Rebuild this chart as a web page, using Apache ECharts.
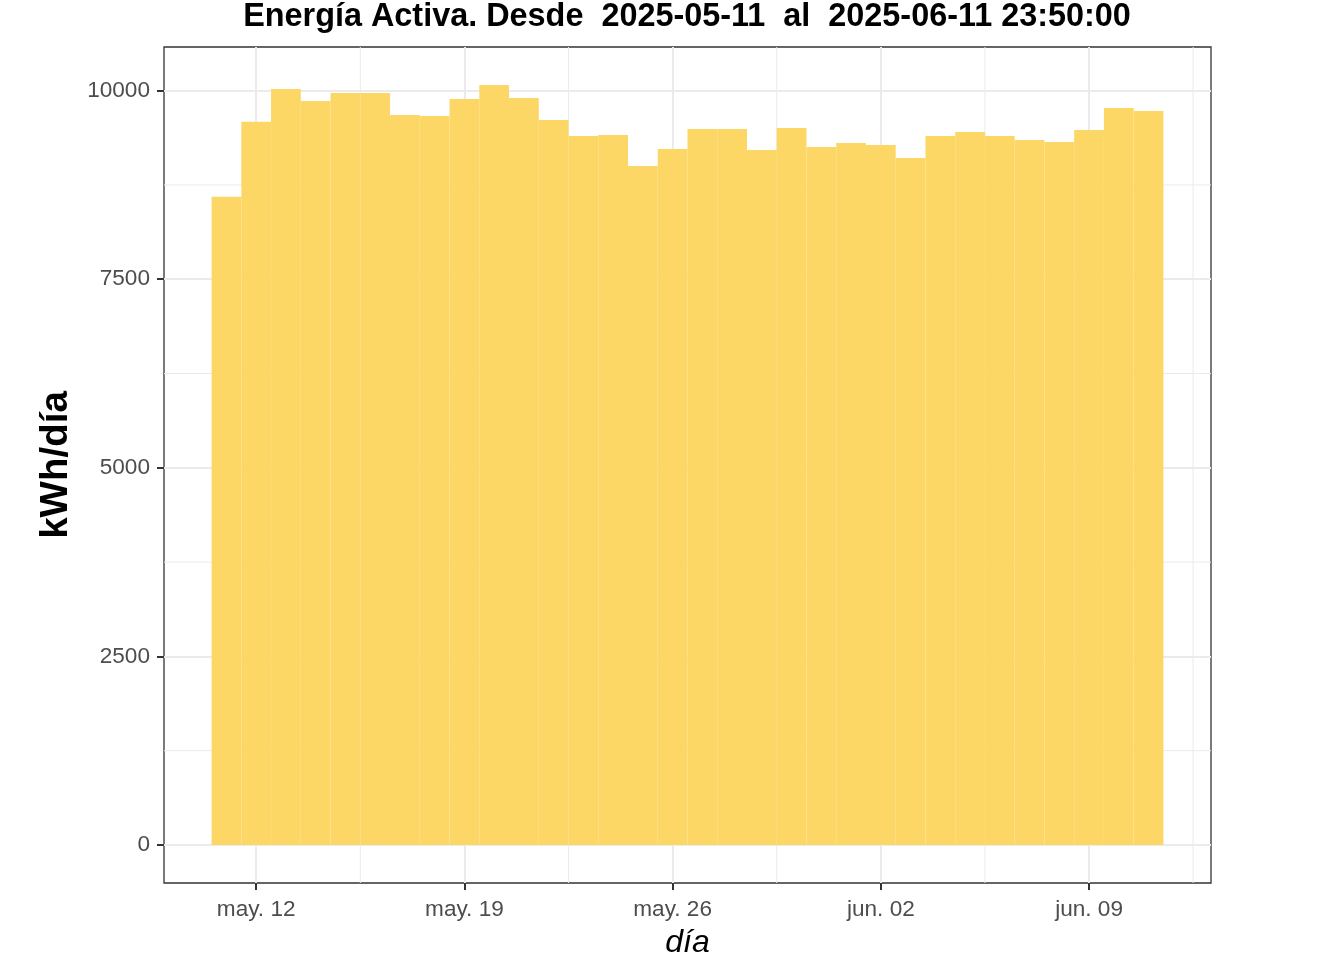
<!DOCTYPE html>
<html>
<head>
<meta charset="utf-8">
<script src="https://cdn.jsdelivr.net/npm/echarts@6/dist/echarts.min.js"></script>
<style>html,body{margin:0;padding:0;background:#fff}#c{width:1344px;height:960px}</style>
</head>
<body>
<div id="c"></div>
<script>
// ---- data ----
const dates = [
  "2025-05-11","2025-05-12","2025-05-13","2025-05-14","2025-05-15","2025-05-16","2025-05-17","2025-05-18",
  "2025-05-19","2025-05-20","2025-05-21","2025-05-22","2025-05-23","2025-05-24","2025-05-25","2025-05-26",
  "2025-05-27","2025-05-28","2025-05-29","2025-05-30","2025-05-31","2025-06-01","2025-06-02","2025-06-03",
  "2025-06-04","2025-06-05","2025-06-06","2025-06-07","2025-06-08","2025-06-09","2025-06-10","2025-06-11"
];
const energy = [
  8595, 9589, 10022, 9864, 9970, 9970, 9678, 9664,
  9890, 10075, 9903, 9612, 9400, 9413, 9002, 9228,
  9493, 9493, 9214, 9506, 9254, 9307, 9280, 9108,
  9400, 9453, 9400, 9347, 9320, 9479, 9771, 9731
];
const xTickDates = ["2025-05-12","2025-05-19","2025-05-26","2025-06-02","2025-06-09"];
const xTickLabels = ["may. 12","may. 19","may. 26","jun. 02","jun. 09"];
const yTicks = [0, 2500, 5000, 7500, 10000];
const yTickLabels = ["0","2500","5000","7500","10000"];
const titleText = "Energía Activa. Desde  2025-05-11  al  2025-06-11 23:50:00";

// ---- helpers ----
const DAY0 = Date.UTC(2025, 4, 1);
function dayNum(s) {
  const p = s.split("-").map(Number);
  return (Date.UTC(p[0], p[1] - 1, p[2]) - DAY0) / 86400000 + 1;
}
const xs = dates.map(dayNum);
const xTicks = xTickDates.map(dayNum);
const xMinData = Math.min(...xs) - 0.5, xMaxData = Math.max(...xs) + 0.5;
const xPad = (xMaxData - xMinData) * 0.05;
const xMin = xMinData - xPad, xMax = xMaxData + xPad;
const yMaxData = Math.max(...energy);
const yMin = -0.05 * yMaxData, yMax = 1.05 * yMaxData;

// minor gridlines: midpoints between majors
const xMinor = [];
for (let i = -1; i < xTicks.length; i++) {
  const a = i < 0 ? xTicks[0] - 7 : xTicks[i];
  const m = a + 3.5;
  if (m > xMin && m < xMax) xMinor.push(m);
}
const yMinor = [];
for (let i = -1; i < yTicks.length; i++) {
  const a = i < 0 ? yTicks[0] - 2500 : yTicks[i];
  const m = a + 1250;
  if (m > yMin && m < yMax) yMinor.push(m);
}

const FONT = "'Liberation Sans', Arial, sans-serif";
const BAR = "#FCD766";
const GRID = "#EBEBEB";

const chart = echarts.init(document.getElementById('c'), null, {renderer: 'canvas'});
chart.setOption({
  backgroundColor: '#ffffff',
  animation: false,
  title: {
    text: titleText,
    left: 687,
    textAlign: 'center',
    top: 1,
    padding: 0,
    textStyle: {fontFamily: FONT, fontWeight: 'bold', fontSize: 32.4, color: '#000'}
  },
  grid: {
    left: 164, right: 133, top: 47, bottom: 77,
    outerBoundsMode: 'none', containLabel: false,
    show: true, borderColor: '#333333', borderWidth: 1.3, backgroundColor: 'transparent'
  },
  xAxis: {
    type: 'value', min: xMin, max: xMax,
    name: 'día', nameLocation: 'middle', nameGap: 44,
    nameTextStyle: {fontFamily: FONT, fontStyle: 'italic', fontSize: 32, color: '#000'},
    axisLine: {show: false, onZero: false},
    axisTick: {show: true, inside: false, customValues: xTicks, length: 7, lineStyle: {color: '#333333', width: 2}},
    axisLabel: {
      customValues: xTicks, margin: 15,
      fontFamily: FONT, fontSize: 22.6, color: '#4D4D4D',
      formatter: v => { const i = xTicks.findIndex(t => Math.abs(t - v) < 1e-6); return i >= 0 ? xTickLabels[i] : ''; }
    },
    splitLine: {show: true, lineStyle: {color: GRID, width: 2}}
  },
  yAxis: {
    type: 'value', min: yMin, max: yMax,
    name: 'kWh/día', nameLocation: 'middle', nameGap: 88,
    nameTextStyle: {fontFamily: FONT, fontWeight: 'bold', fontSize: 38.5, color: '#000'},
    axisLine: {show: false, onZero: false},
    axisTick: {show: true, inside: false, customValues: yTicks, length: 7, lineStyle: {color: '#333333', width: 2}},
    axisLabel: {
      customValues: yTicks, margin: 14,
      fontFamily: FONT, fontSize: 22.6, color: '#4D4D4D',
      formatter: v => { const i = yTicks.findIndex(t => Math.abs(t - v) < 1e-6); return i >= 0 ? yTickLabels[i] : ''; }
    },
    splitLine: {show: true, lineStyle: {color: GRID, width: 2}}
  },
  series: [
    {
      type: 'custom', z: 1, silent: true,
      data: xMinor.map(v => [v, 0]),
      renderItem: (params, api) => {
        const p0 = api.coord([api.value(0), yMin]);
        const p1 = api.coord([api.value(0), yMax]);
        return {type: 'line', shape: {x1: p0[0], y1: p0[1], x2: p1[0], y2: p1[1]}, style: {stroke: GRID, lineWidth: 1}};
      }
    },
    {
      type: 'custom', z: 1, silent: true,
      data: yMinor.map(v => [xMin, v]),
      renderItem: (params, api) => {
        const p0 = api.coord([xMin, api.value(1)]);
        const p1 = api.coord([xMax, api.value(1)]);
        return {type: 'line', shape: {x1: p0[0], y1: p0[1], x2: p1[0], y2: p1[1]}, style: {stroke: GRID, lineWidth: 1}};
      }
    },
    {
      type: 'custom', z: 2,
      data: xs.map((x, i) => [x, energy[i]]),
      renderItem: (params, api) => {
        const p0 = api.coord([api.value(0) - 0.5, api.value(1)]);
        const p1 = api.coord([api.value(0) + 0.5, 0]);
        return {type: 'rect', shape: {x: p0[0], y: p0[1], width: p1[0] - p0[0], height: p1[1] - p0[1]}, style: {fill: BAR}};
      }
    }
  ]
});
</script>
</body>
</html>
